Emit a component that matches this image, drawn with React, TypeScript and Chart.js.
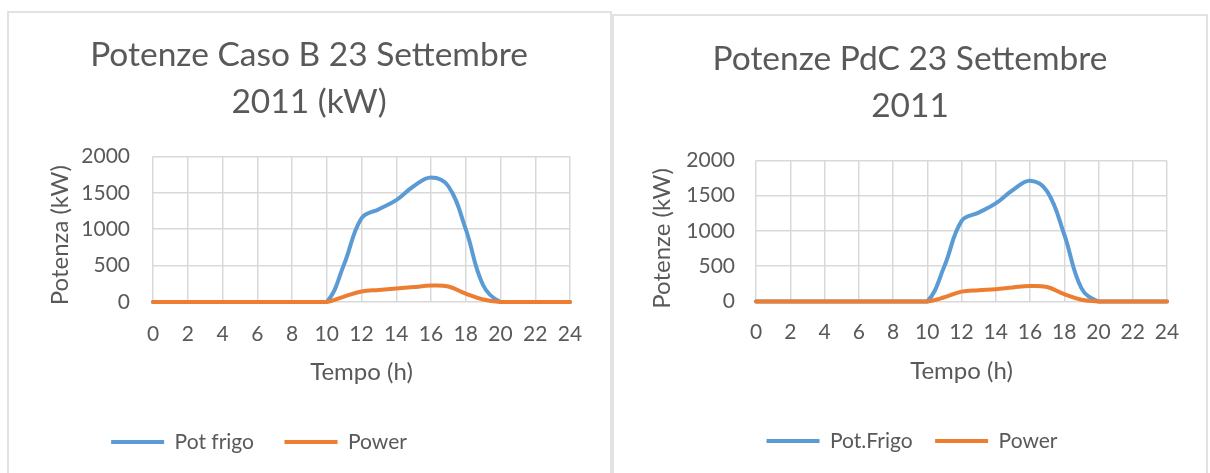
import React, { useEffect, useRef } from 'react';
import { Chart, registerables } from 'chart.js';

Chart.register(...registerables);

// ---- data ----
const hours = [0, 1, 2, 3, 4, 5, 6, 7, 8, 9, 10, 11, 12, 13, 14, 15, 16, 17, 18, 19, 20, 21, 22, 23, 24];
const potFrigoB = [0, 0, 0, 0, 0, 0, 0, 0, 0, 0, 0, 520, 1150, 1275, 1400, 1590, 1710, 1590, 1000, 230, 0, 0, 0, 0, 0];
const powerB = [0, 0, 0, 0, 0, 0, 0, 0, 0, 0, 0, 75, 145, 165, 185, 205, 225, 212, 115, 35, 0, 0, 0, 0, 0];
const potFrigoPdC = [0, 0, 0, 0, 0, 0, 0, 0, 0, 0, 0, 500, 1140, 1260, 1390, 1580, 1710, 1560, 950, 190, 0, 0, 0, 0, 0];
const powerPdC = [0, 0, 0, 0, 0, 0, 0, 0, 0, 0, 0, 60, 140, 160, 175, 200, 220, 205, 105, 25, 0, 0, 0, 0, 0];
const xTickValues = [0, 2, 4, 6, 8, 10, 12, 14, 16, 18, 20, 22, 24];
const yTickValues = [0, 500, 1000, 1500, 2000];

const titleB = ['Potenze Caso B 23 Settembre', '2011 (kW)'];
const titlePdC = ['Potenze PdC 23 Settembre', '2011'];
const xAxisTitle = 'Tempo (h)';
const yAxisTitleB = 'Potenza (kW)\u2002';
const yAxisTitlePdC = 'Potenze (kW)\u2002\u2009';
const frigoLabelB = 'Pot frigo';
const frigoLabelPdC = 'Pot.Frigo';
const powerLabel = 'Power';

// ---- style ----
const BLUE = '#5B9BD5';
const ORANGE = '#ED7D31';
const TEXT = '#595959';
const GRID = '#d9d9d9';
const FONT = "Lato, 'Open Sans', sans-serif";

const legendShift: any = {
  id: 'legendShift',
  afterLayout(chart: any, _args: any, opts: any) {
    const lg = chart.legend;
    if (lg && opts && opts.dx) {
      lg.left += opts.dx;
      lg.right += opts.dx;
    }
  },
};

type Spec = {
  width: number;
  height: number;
  title: string[];
  titleLH: number;
  titlePadTop: number;
  titlePadBottom: number;
  yTitle: string;
  yTitlePadTop: number;
  yWidth: number;
  yTickPad: number;
  xHeight: number;
  xTickPad: number;
  xTitlePadBottom: number;
  padL: number;
  padR: number;
  padB: number;
  legendPad: number;
  legendDx: number;
  frigoLabel: string;
  frigo: number[];
  power: number[];
};

function makeConfig(s: Spec): any {
  const ds = (label: string, values: number[], color: string, order: number) => ({
    label,
    data: hours.map((h, i) => ({ x: h, y: values[i] })),
    order,
    borderColor: color,
    backgroundColor: color,
    borderWidth: 4,
    pointRadius: 0,
    pointHoverRadius: 0,
    pointBorderWidth: 4,
    pointBorderColor: color,
    pointBackgroundColor: color,
    tension: 0.4,
    borderCapStyle: 'round',
    borderJoinStyle: 'round',
    fill: false,
    clip: 6,
  });
  return {
    type: 'line',
    data: {
      // orange (Power) is drawn above the blue line
      datasets: [ds(s.frigoLabel, s.frigo, BLUE, 2), ds(powerLabel, s.power, ORANGE, 1)],
    },
    options: {
      responsive: false,
      animation: false,
      events: [],
      layout: { padding: { left: s.padL, right: s.padR, top: 0, bottom: s.padB } },
      plugins: {
        title: {
          display: true,
          text: s.title,
          color: TEXT,
          font: { family: FONT, size: 33.5, weight: 'normal', lineHeight: s.titleLH },
          padding: { top: s.titlePadTop, bottom: s.titlePadBottom },
        },
        legend: {
          display: true,
          position: 'bottom',
          labels: {
            usePointStyle: true,
            pointStyle: 'line',
            pointStyleWidth: 53,
            color: TEXT,
            font: { family: FONT, size: 21 },
            padding: s.legendPad,
            sort: (a: any, b: any) => a.datasetIndex - b.datasetIndex,
          },
        },
        tooltip: { enabled: false },
        legendShift: { dx: s.legendDx },
      },
      scales: {
        x: {
          type: 'linear',
          min: 0,
          max: 24,
          afterBuildTicks: (sc: any) => {
            sc.ticks = xTickValues.map((v) => ({ value: v }));
          },
          afterFit: (sc: any) => {
            sc.height = s.xHeight;
          },
          grid: { color: GRID, lineWidth: 1.5, drawTicks: false },
          border: { display: false },
          ticks: {
            color: TEXT,
            font: { family: FONT, size: 21, lineHeight: 1.2 },
            padding: s.xTickPad,
            maxRotation: 0,
            autoSkip: false,
            callback: (v: any) => String(v),
          },
          title: {
            display: true,
            text: xAxisTitle,
            color: TEXT,
            font: { family: FONT, size: 24, lineHeight: 1.2 },
            padding: { top: 0, bottom: s.xTitlePadBottom },
          },
        },
        y: {
          type: 'linear',
          min: 0,
          max: 2000,
          afterBuildTicks: (sc: any) => {
            sc.ticks = yTickValues.map((v) => ({ value: v }));
          },
          afterFit: (sc: any) => {
            sc.width = s.yWidth;
          },
          grid: { color: GRID, lineWidth: 1.5, drawTicks: false },
          border: { display: false },
          ticks: {
            color: TEXT,
            font: { family: FONT, size: 21, lineHeight: 1.2 },
            padding: s.yTickPad,
            callback: (v: any) => String(v),
          },
          title: {
            display: true,
            text: s.yTitle,
            color: TEXT,
            font: { family: FONT, size: 24, lineHeight: 1 },
            padding: { top: s.yTitlePadTop, bottom: 0 },
          },
        },
      },
    },
    plugins: [legendShift],
  };
}

const specB: Spec = {
  width: 601,
  height: 460,
  title: titleB,
  titleLH: 1.394,
  titlePadTop: 19,
  titlePadBottom: 31,
  yTitle: yAxisTitleB,
  yTitlePadTop: 0,
  yWidth: 105,
  yTickPad: 23,
  xHeight: 99,
  xTickPad: 19.4,
  xTitlePadBottom: 14.6,
  padL: 39,
  padR: 40,
  padB: 10.5,
  legendPad: 30.5,
  legendDx: -50,
  frigoLabel: frigoLabelB,
  frigo: potFrigoB,
  power: powerB,
};

const specPdC: Spec = {
  width: 592,
  height: 457,
  title: titlePdC,
  titleLH: 1.409,
  titlePadTop: 19.25,
  titlePadBottom: 30.75,
  yTitle: yAxisTitlePdC,
  yTitlePadTop: -3,
  yWidth: 103,
  yTickPad: 21,
  xHeight: 106.5,
  xTickPad: 17.9,
  xTitlePadBottom: 22.1,
  padL: 39,
  padR: 39,
  padB: 11.5,
  legendPad: 22.5,
  legendDx: 2,
  frigoLabel: frigoLabelPdC,
  frigo: potFrigoPdC,
  power: powerPdC,
};

function ChartBox({ spec, style }: { spec: Spec; style: React.CSSProperties }) {
  const ref = useRef<HTMLCanvasElement | null>(null);
  useEffect(() => {
    if (!ref.current) return;
    const chart = new Chart(ref.current, makeConfig(spec));
    return () => chart.destroy();
  }, [spec]);
  return (
    <div
      style={{
        position: 'absolute',
        boxSizing: 'border-box',
        border: '2px solid #e2e2e2',
        background: '#ffffff',
        overflow: 'hidden',
        ...style,
      }}
    >
      <canvas
        ref={ref}
        width={spec.width}
        height={spec.height}
        style={{ display: 'block', width: spec.width, height: spec.height }}
      />
    </div>
  );
}

export default function App() {
  return (
    <div style={{ position: 'fixed', left: 0, top: 0, right: 0, bottom: 0, overflow: 'hidden', background: '#ffffff' }}>
      <ChartBox spec={specB} style={{ left: 7, top: 11, width: 605, height: 480 }} />
      <ChartBox spec={specPdC} style={{ left: 612, top: 14, width: 596, height: 480 }} />
    </div>
  );
}
